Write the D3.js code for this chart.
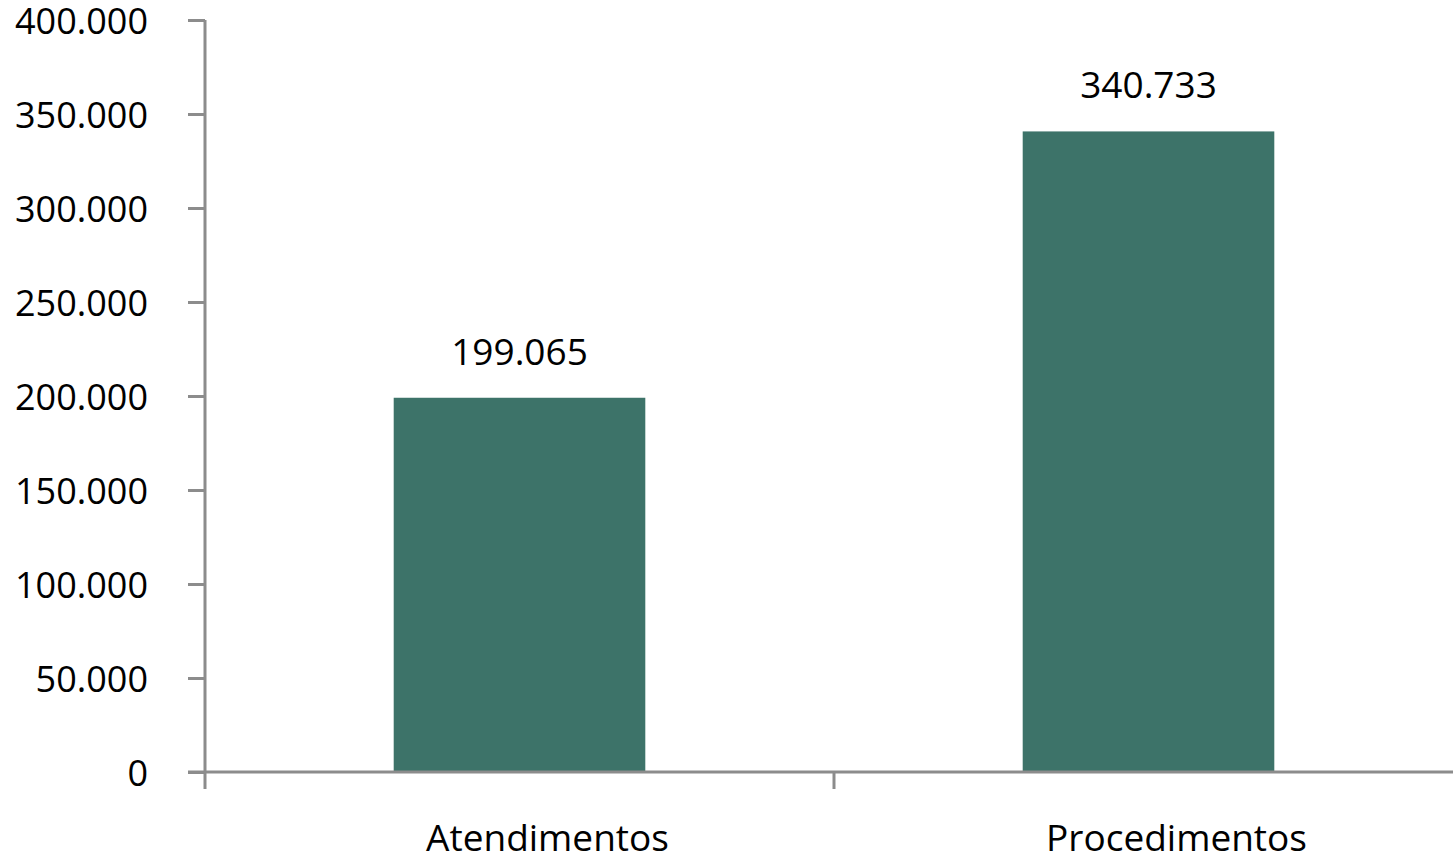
<!DOCTYPE html>
<html><head><meta charset="utf-8">
<script src="https://cdn.jsdelivr.net/npm/d3@7"></script>
<style>html,body{margin:0;padding:0;background:#fff;overflow:hidden}</style>
</head><body>
<svg id="c" width="1453" height="856"></svg>
<script>
const categories = ["Atendimentos", "Procedimentos"];
const values = [199065, 340733];
const tickValues = [0, 50000, 100000, 150000, 200000, 250000, 300000, 350000, 400000];
const tickLabels = ["0", "50.000", "100.000", "150.000", "200.000", "250.000", "300.000", "350.000", "400.000"];
const dataLabels = ["199.065", "340.733"];

const svg = d3.select("#c");
const x0 = 205, x1 = 1463, yTop = 20, yBot = 772;
const font = "'Open Sans', sans-serif";
const axisColor = "#8c8c8c";

const x = d3.scaleBand().domain(categories).range([x0, x1]).padding(0);
const y = d3.scaleLinear().domain([0, 400000]).range([yBot, yTop]);
const barW = x.bandwidth() / 2.5;

// bars
svg.selectAll("rect.bar").data(categories).join("rect")
  .attr("class", "bar")
  .attr("x", d => x(d) + (x.bandwidth() - barW) / 2)
  .attr("width", barW)
  .attr("y", (d, i) => y(values[i]))
  .attr("height", (d, i) => yBot - y(values[i]))
  .attr("fill", "#3d7369");

// data labels
svg.selectAll("text.dl").data(categories).join("text")
  .attr("class", "dl")
  .attr("x", d => x(d) + x.bandwidth() / 2)
  .attr("y", (d, i) => y(values[i]) - 33)
  .attr("text-anchor", "middle")
  .attr("font-family", font).attr("font-size", 37).attr("fill", "#000")
  .text((d, i) => dataLabels[i]);

// y axis
const yAxis = d3.axisLeft(y).tickValues(tickValues).tickSize(17)
  .tickFormat((d, i) => tickLabels[i]).tickPadding(40);
const gy = svg.append("g").attr("transform", `translate(${x0},0)`).call(yAxis);
gy.select(".domain").remove();
gy.selectAll(".tick line").attr("stroke", axisColor).attr("stroke-width", 3);
gy.selectAll(".tick text").attr("font-family", font).attr("font-size", 36)
  .attr("fill", "#000").attr("dy", "0.38em").attr("x", -57);
svg.append("line").attr("x1", x0).attr("x2", x0).attr("y1", yTop).attr("y2", yBot + 17)
  .attr("stroke", axisColor).attr("stroke-width", 3);

// x axis
svg.append("line").attr("x1", x0 - 17).attr("x2", 1453).attr("y1", yBot).attr("y2", yBot)
  .attr("stroke", axisColor).attr("stroke-width", 3);
svg.selectAll("line.xt").data(categories.slice(1)).join("line")
  .attr("class", "xt")
  .attr("x1", d => x(d)).attr("x2", d => x(d))
  .attr("y1", yBot).attr("y2", yBot + 17)
  .attr("stroke", axisColor).attr("stroke-width", 3);
svg.selectAll("text.cat").data(categories).join("text")
  .attr("class", "cat")
  .attr("x", d => x(d) + x.bandwidth() / 2 + 28)
  .attr("y", yBot + 79)
  .attr("text-anchor", "middle")
  .attr("font-family", font).attr("font-size", 37).attr("fill", "#000")
  .text(d => d);
</script>
</body></html>
